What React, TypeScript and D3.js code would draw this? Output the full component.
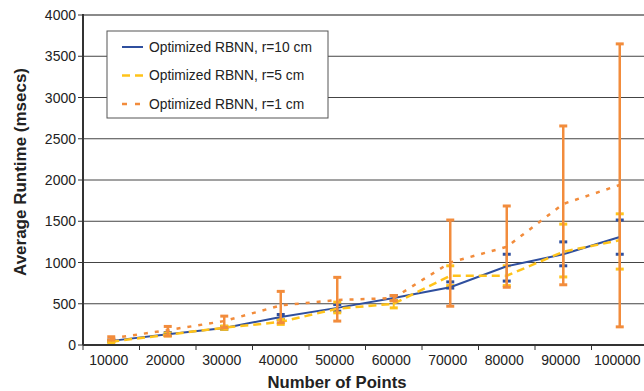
import React from 'react';
import * as d3 from 'd3';

const W = 644, H = 391;
const MARGIN = { top: 15, right: -4, bottom: 46, left: 83 };
const FONT = '"Liberation Sans", Arial, sans-serif';

const categories = ['10000', '20000', '30000', '40000', '50000', '60000', '70000', '80000', '90000', '100000'];
const yTicks = [0, 500, 1000, 1500, 2000, 2500, 3000, 3500, 4000];

// r=10 cm
const r10 = [50, 130, 205, 340, 450, 570, 700, 955, 1100, 1310];
const r10Low = [40, 115, 190, 310, 410, 540, 690, 775, 960, 1100];
const r10High = [60, 150, 225, 370, 490, 600, 765, 1100, 1250, 1515];
// r=5 cm
const r5 = [40, 125, 210, 280, 440, 500, 840, 840, 1130, 1270];
const r5Low = [30, 110, 190, 250, 390, 450, 720, 720, 825, 920];
const r5High = [55, 145, 230, 310, 520, 540, 960, 960, 1465, 1590];
// r=1 cm
const r1 = [80, 180, 290, 480, 545, 570, 1000, 1190, 1710, 1940];
const r1Low = [60, 110, 210, 270, 290, 535, 470, 700, 730, 220];
const r1High = [100, 225, 350, 650, 820, 600, 1515, 1685, 2655, 3650];

const series = [
  { name: 'Optimized RBNN, r=10 cm', values: r10, low: r10Low, high: r10High, color: '#2F4F9E', dash: null, width: 2 },
  { name: 'Optimized RBNN, r=5 cm', values: r5, low: r5Low, high: r5High, color: '#FFC31A', dash: '8,5', width: 2.5 },
  { name: 'Optimized RBNN, r=1 cm', values: r1, low: r1Low, high: r1High, color: '#F28C3C', dash: '4,7', width: 2.5 },
];

export default function App() {
  const x = d3.scaleBand<string>().domain(categories).range([MARGIN.left, W - MARGIN.right]);
  const y = d3.scaleLinear().domain([0, 4000]).range([H - MARGIN.bottom, MARGIN.top]);
  const cx = (i: number) => (x(categories[i]) as number) + x.bandwidth() / 2;
  const line = d3.line<number>().x((_, i) => cx(i)).y(d => y(d));
  const bottom = y(0);
  const cap = 4;

  const errBars = (s: typeof series[number]) => (
    <g key={'err' + s.name} stroke={s.color} strokeWidth={s === series[2] ? 2.5 : 2}>
      {s.values.map((_, i) => (
        <g key={i}>
          <line x1={cx(i)} x2={cx(i)} y1={y(s.low[i])} y2={y(s.high[i])} />
          <line x1={cx(i) - cap} x2={cx(i) + cap} y1={y(s.low[i])} y2={y(s.low[i])} strokeWidth={3} />
          <line x1={cx(i) - cap} x2={cx(i) + cap} y1={y(s.high[i])} y2={y(s.high[i])} strokeWidth={3} />
        </g>
      ))}
    </g>
  );

  return (
    <svg width={W} height={H} style={{ position: 'absolute', left: 0, top: 0, background: '#fff' }} fontFamily={FONT}>
      {/* grid */}
      {yTicks.filter(t => t > 0 && t < 4000).map(t => (
        <line key={t} x1={MARGIN.left} x2={W} y1={y(t)} y2={y(t)} stroke="#444" strokeWidth={1} />
      ))}
      <line x1={MARGIN.left} x2={W} y1={y(4000)} y2={y(4000)} stroke="#8a8a8a" strokeWidth={2} />

      {errBars(series[0])}
      {errBars(series[1])}

      {series.map(s => (
        <path key={s.name} d={line(s.values) || ''} fill="none" stroke={s.color}
          strokeWidth={s.width} strokeDasharray={s.dash || undefined} />
      ))}

      {errBars(series[2])}

      {/* y axis */}
      <line x1={MARGIN.left} x2={MARGIN.left} y1={y(4000) - 1} y2={bottom} stroke="#333" strokeWidth={2} />
      {yTicks.map(t => (
        <g key={t}>
          <line x1={MARGIN.left - 5} x2={MARGIN.left} y1={y(t)} y2={y(t)} stroke="#333" strokeWidth={1} />
          <text x={MARGIN.left - 7} y={y(t)} dy="0.36em" textAnchor="end" fontSize={14} fill="#222">{t}</text>
        </g>
      ))}

      {/* x axis */}
      <line x1={MARGIN.left} x2={W} y1={bottom} y2={bottom} stroke="#333" strokeWidth={2} />
      {categories.map((c, i) => (
        <g key={c}>
          <line x1={x(c) as number} x2={x(c) as number} y1={bottom} y2={bottom + 5} stroke="#333" strokeWidth={1} />
          <text x={cx(i) - 2.5} y={bottom + 20} textAnchor="middle" fontSize={14} fill="#222">{c}</text>
        </g>
      ))}

      {/* titles */}
      <text transform={`translate(26,172) rotate(-90)`} textAnchor="middle"
        fontSize={16.5} fontWeight="bold" fill="#222" textLength={208} lengthAdjust="spacingAndGlyphs">Average Runtime (msecs)</text>
      <text x={337} y={388} textAnchor="middle" fontSize={16.5} fontWeight="bold" fill="#222"
        textLength={139} lengthAdjust="spacingAndGlyphs">Number of Points</text>

      {/* legend */}
      <g>
        <rect x={107} y={31} width={221} height={87} fill="#fff" stroke="#555" strokeWidth={1} />
        {series.map((s, i) => (
          <g key={s.name} transform={`translate(122,${47 + i * 28.5})`}>
            <line x1={0} x2={21} y1={0} y2={0} stroke={s.color} strokeWidth={s.width}
              strokeDasharray={s.dash ? (i === 1 ? '8,5' : '5,8') : undefined} />
            <text x={27} y={0} dy="0.36em" fontSize={13.8} fill="#222">{s.name}</text>
          </g>
        ))}
      </g>
    </svg>
  );
}
